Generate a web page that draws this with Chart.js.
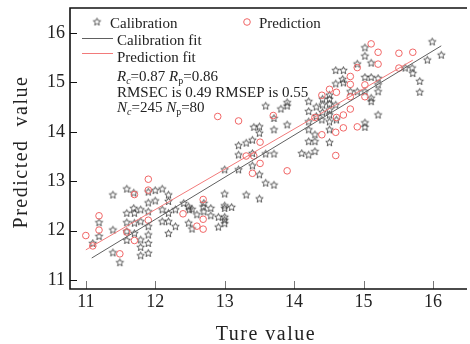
<!DOCTYPE html>
<html><head><meta charset="utf-8">
<script src="https://cdn.jsdelivr.net/npm/chart.js@4/dist/chart.umd.min.js"></script>
<style>html,body{margin:0;padding:0;background:#fff;overflow:hidden}#wrap{width:470px;height:344px;position:relative}</style>
</head><body><div id="wrap"><canvas id="c" width="470" height="344"></canvas></div>
<script>
// ---- data ----
const calX = [11.39,11.59,11.69,11.90,12.00,12.10,12.19,12.19,12.00,11.90,11.69,11.79,11.90,11.59,11.70,12.10,12.19,12.29,12.41,12.48,
11.19,11.19,11.39,11.59,11.70,11.79,11.90,11.59,11.70,11.90,12.10,12.19,12.29,12.19,12.48,11.10,11.59,11.79,11.79,11.90,
11.39,11.49,11.79,11.90,13.59,13.90,13.90,13.81,13.71,13.90,13.50,13.50,13.40,13.31,13.20,13.71,13.20,13.40,13.59,13.71,
13.40,13.50,13.59,13.71,13.00,13.20,13.00,13.31,13.50,12.53,12.69,12.80,13.00,13.00,13.10,12.60,12.91,13.00,13.00,13.00,
12.91,12.53,13.42,14.21,14.30,14.21,14.30,14.51,14.51,14.11,14.21,14.30,15.02,15.02,14.51,15.99,15.92,15.02,15.02,14.91,
15.11,14.60,14.71,15.02,15.11,15.21,15.21,15.21,14.70,14.71,14.60,14.81,14.91,15.02,15.11,14.51,14.41,14.51,14.41,14.32,
14.51,14.60,14.51,14.21,14.21,14.32,14.41,14.51,14.61,15.21,14.40,14.21,15.70,15.81,15.81,15.60,15.11,16.12,15.71,12.80,
12.70,12.70,12.49];
const calY = [12.72,12.84,12.76,12.78,12.81,12.84,12.72,12.59,12.60,12.56,12.45,12.42,12.38,12.35,12.35,12.42,12.35,12.42,12.55,12.48,
12.16,11.88,12.01,12.16,12.15,12.18,12.08,11.98,11.94,11.91,12.18,12.18,12.08,11.94,12.15,11.74,11.80,11.81,11.66,11.74,
11.55,11.35,11.49,11.54,14.52,14.52,14.59,14.46,14.27,14.14,14.10,13.97,13.83,13.77,13.72,14.04,13.53,13.56,13.55,13.55,
13.31,13.13,12.96,12.92,13.23,13.23,12.74,12.72,12.64,12.43,12.48,12.45,12.50,12.45,12.47,12.32,12.27,12.27,12.21,12.14,
12.07,12.03,14.09,14.20,13.94,13.80,13.80,14.04,13.78,13.56,13.53,13.60,14.18,14.09,14.20,15.82,15.45,15.70,15.53,15.37,
15.39,15.24,15.24,15.10,15.10,15.08,14.95,14.81,15.06,14.99,14.97,14.81,14.81,14.81,14.68,14.74,14.66,14.66,14.54,14.50,
14.56,14.54,14.44,14.61,14.41,14.31,14.39,14.34,14.24,14.34,14.24,14.04,15.29,15.02,14.80,15.29,14.61,15.55,15.18,12.30,
12.55,12.38,12.42];
const predX = [11.00,11.10,11.19,11.19,11.49,11.59,11.70,11.70,11.90,11.90,11.90,12.40,12.90,13.20,13.70,13.51,13.42,13.51,13.40,13.90,
12.69,12.69,12.60,12.69,13.31,14.40,14.60,14.71,14.91,14.60,15.11,15.21,15.51,15.71,15.21,14.91,15.51,14.81,14.81,15.02,
15.02,14.61,14.51,14.40,14.81,14.81,14.71,14.61,14.30];
const predY = [11.90,11.69,12.30,12.01,11.53,11.97,11.80,12.73,13.04,12.82,12.21,12.34,14.31,14.22,14.33,13.79,13.51,13.36,13.16,13.21,
12.63,12.23,12.09,12.03,13.51,13.94,13.99,14.08,14.10,13.52,15.78,15.61,15.59,15.61,15.37,15.30,15.29,15.12,14.96,14.95,
14.71,14.80,14.86,14.74,14.71,14.46,14.34,14.29,14.29];
const calFitX = [11.085, 16.12], calFitY = [11.445, 15.74];
const predFitX = [11.00, 15.71], predFitY = [11.61, 15.45];
const xTicks = [11,12,13,14,15,16];
const yTicks = [11,12,13,14,15,16];
const seriesNames = ['Calibration','Prediction','Calibration fit','Prediction fit'];
const statLines = {Rc:'0.87', Rp:'0.86', rmsec:'0.49', rmsep:'0.55', Nc:'245', Np:'80'};
const xTitle = 'Ture value', yTitle = 'Predicted  value';

const SERIF = "'Liberation Serif', 'Times New Roman', serif";
const STAR_COL = '#333333', CIRC_COL = '#f06565', CALFIT_COL = '#606060', PREDFIT_COL = '#f27a7a';

function makeStar(r, color){
  const s = Math.ceil(r*2+3);
  const c = document.createElement('canvas'); c.width = s; c.height = s;
  const g = c.getContext('2d'); g.translate(s/2, s/2);
  g.beginPath();
  for (let i=0;i<10;i++){ const rr = i%2 ? r*0.45 : r; const a = -Math.PI/2 + i*Math.PI/5; g.lineTo(rr*Math.cos(a), rr*Math.sin(a)); }
  g.closePath(); g.strokeStyle = color; g.lineWidth = 0.8; g.stroke();
  return c;
}
const starImg = makeStar(3.9, STAR_COL);

const pts = (xs, ys) => xs.map((x,i)=>({x, y: ys[i]}));

const framePlugin = {
  id: 'frame',
  afterDatasetsDraw(chart){
    const {ctx, chartArea:a, scales:{x, y}} = chart;
    ctx.save();
    ctx.lineWidth = 1;
    ctx.strokeStyle = '#777';
    xTicks.forEach(v=>{ const px = Math.round(x.getPixelForValue(v))+0.5; ctx.beginPath(); ctx.moveTo(px, a.bottom); ctx.lineTo(px, a.bottom-8); ctx.stroke(); });
    ctx.strokeStyle = '#111';
    yTicks.forEach(v=>{ const py = Math.round(y.getPixelForValue(v))+0.5; ctx.beginPath(); ctx.moveTo(a.left, py); ctx.lineTo(a.left+7, py); ctx.stroke(); });
    ctx.strokeStyle = '#111'; ctx.lineWidth = 1.6;
    ctx.beginPath();
    ctx.moveTo(a.right+2, a.top); ctx.lineTo(a.left, a.top); ctx.lineTo(a.left, a.bottom); ctx.lineTo(a.right+2, a.bottom);
    ctx.stroke();
    ctx.fillStyle = '#222';
    ctx.font = '20px ' + SERIF;
    try { ctx.letterSpacing = '1.5px'; } catch(e){}
    ctx.textAlign = 'center'; ctx.textBaseline = 'alphabetic';
    ctx.fillText(xTitle, 266, 340);
    ctx.save(); ctx.translate(27, 152); ctx.rotate(-Math.PI/2); ctx.fillText(yTitle, 0, 0); ctx.restore();
    try { ctx.letterSpacing = '0px'; } catch(e){}
    ctx.textAlign = 'left';
    const F = '15px ' + SERIF, FI = 'italic 15px ' + SERIF, FS = 'italic 10px ' + SERIF, FSU = '10px ' + SERIF;
    ctx.font = F;
    ctx.drawImage(starImg, 97 - starImg.width/2, 22 - starImg.height/2);
    ctx.fillText(seriesNames[0], 110, 28);
    ctx.beginPath(); ctx.arc(247, 22, 3.3, 0, Math.PI*2); ctx.strokeStyle = CIRC_COL; ctx.lineWidth = 1; ctx.stroke();
    ctx.fillText(seriesNames[1], 259, 28);
    ctx.lineWidth = 1;
    ctx.strokeStyle = CALFIT_COL; ctx.beginPath(); ctx.moveTo(82, 38.5); ctx.lineTo(113, 38.5); ctx.stroke();
    ctx.fillText(seriesNames[2], 117, 45);
    ctx.strokeStyle = PREDFIT_COL; ctx.beginPath(); ctx.moveTo(82, 53.5); ctx.lineTo(113, 53.5); ctx.stroke();
    ctx.fillText(seriesNames[3], 117, 62);
    const runs = (parts, x0, yb) => { let xx = x0; parts.forEach(([t, f, dy])=>{ ctx.font = f; ctx.fillText(t, xx, yb + dy); xx += ctx.measureText(t).width; }); };
    runs([['R', FI, 0], ['c', FS, 3], ['=' + statLines.Rc + ' ', F, 0], ['R', FI, 0], ['p', FSU, 3], ['=' + statLines.Rp, F, 0]], 117, 81);
    ctx.font = F;
    ctx.fillText('RMSEC is ' + statLines.rmsec + ' RMSEP is ' + statLines.rmsep, 117, 97);
    runs([['N', FI, 0], ['c', FS, 3], ['=' + statLines.Nc + ' ', F, 0], ['N', FI, 0], ['p', FSU, 3], ['=' + statLines.Np, F, 0]], 117, 112);
    ctx.restore();
  }
};

new Chart(document.getElementById('c'), {
  type: 'scatter',
  data: { datasets: [
    { label: seriesNames[0], data: pts(calX, calY), pointStyle: starImg, pointRadius: 4, showLine: false, order: 3 },
    { label: seriesNames[1], data: pts(predX, predY), pointStyle: 'circle', pointRadius: 3.3, borderColor: CIRC_COL, backgroundColor: 'rgba(0,0,0,0)', borderWidth: 1, showLine: false, order: 2 },
    { label: seriesNames[2], data: pts(calFitX, calFitY), showLine: true, borderColor: CALFIT_COL, borderWidth: 1, pointRadius: 0, fill: false, order: 1 },
    { label: seriesNames[3], data: pts(predFitX, predFitY), showLine: true, borderColor: PREDFIT_COL, borderWidth: 1, pointRadius: 0, fill: false, order: 0 }
  ]},
  options: {
    responsive: false, animation: false, devicePixelRatio: 1,
    layout: { padding: { top: 8, left: 0, right: 0, bottom: 0 } },
    plugins: { legend: { display: false }, tooltip: { enabled: false } },
    scales: {
      x: { type: 'linear', min: 10.772, max: 16.462,
        grid: { display: false, drawTicks: false }, border: { display: false },
        afterBuildTicks: s => { s.ticks = xTicks.map(v => ({ value: v })); },
        afterFit: s => { s.height = 55; s.paddingLeft = 0; s.paddingRight = 0; },
        ticks: { padding: 2, autoSkip: false, maxRotation: 0, color: '#222', font: { family: SERIF, size: 18 } } },
      y: { type: 'linear', min: 10.818, max: 16.506,
        grid: { display: false, drawTicks: false }, border: { display: false },
        afterBuildTicks: s => { s.ticks = yTicks.map(v => ({ value: v })); },
        afterFit: s => { s.width = 70; s.paddingTop = 0; s.paddingBottom = 0; },
        ticks: { padding: 5, autoSkip: false, color: '#222', font: { family: SERIF, size: 18 } } }
    }
  },
  plugins: [framePlugin]
});
</script></body></html>
